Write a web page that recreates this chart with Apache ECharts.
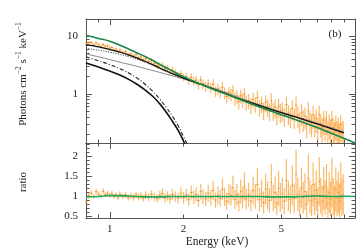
<!DOCTYPE html>
<html><head><meta charset="utf-8">
<script src="https://cdn.jsdelivr.net/npm/echarts@6/dist/echarts.min.js"></script>
<style>html,body{margin:0;padding:0;background:#fff}#c{width:357px;height:249px}</style>
</head><body><div id="c"></div>
<script>
// ---------- data ----------
const energies = [0.80,0.82,0.84,0.86,0.88,0.90,0.92,0.94,0.96,0.98,
1.00,1.02,1.04,1.06,1.08,1.10,1.13,1.16,1.19,1.22,
1.25,1.28,1.31,1.34,1.37,1.40,1.44,1.48,1.52,1.56,
1.60,1.64,1.68,1.72,1.76,1.80,1.85,1.90,1.95,2.00,
2.05,2.10,2.15,2.20,2.25,2.30,2.35,2.40,2.46,2.52,
2.58,2.64,2.70,2.76,2.82,2.88,2.94,3.00,3.06,3.12,
3.18,3.24,3.30,3.36,3.42,3.48,3.54,3.60,3.68,3.76,
3.84,3.92,4.00,4.08,4.16,4.24,4.32,4.40,4.48,4.56,
4.64,4.72,4.80,4.88,4.96,5.05,5.15,5.25,5.35,5.45,
5.55,5.65,5.75,5.85,5.95,6.05,6.15,6.25,6.35,6.45,
6.55,6.65,6.75,6.85,6.95,7.05,7.15,7.25,7.35,7.45,
7.55,7.65,7.75,7.85,7.95,8.05,8.15,8.25,8.35,8.45,
8.55,8.65,8.75,8.85,8.95];
const flux = [7.3,7.8,7.85,7.15,7.7,7.2,6.7,7.2,6.75,6.8,
6.25,6.4,5.8,6.0,5.45,5.75,5.3,5.4,4.85,4.95,
4.55,4.8,4.3,4.35,3.9,4.1,3.65,3.8,3.4,3.1,
3.15,3.15,2.75,2.8,2.4,2.6,2.35,2.15,2.25,1.95,
2.0,1.7,1.95,1.68,1.74,1.44,1.74,1.5,1.35,1.49,
1.29,1.47,1.12,1.23,1.08,1.30,1.05,0.90,1.06,0.98,
1.13,0.84,0.92,0.73,0.93,0.79,0.99,0.72,0.77,0.64,
0.80,0.68,0.86,0.59,0.68,0.52,0.71,0.60,0.51,0.76,
0.52,0.59,0.44,0.61,0.49,0.52,0.42,0.65,0.46,0.41,
0.56,0.40,0.64,0.43,0.34,0.47,0.37,0.41,0.29,0.51,
0.35,0.31,0.43,0.31,0.37,0.27,0.43,0.31,0.26,0.35,
0.27,0.35,0.23,0.30,0.25,0.35,0.26,0.22,0.29,0.23,
0.26,0.21,0.29,0.22,0.23];
const relErr = [0.07,0.06,0.06,0.06,0.06,0.06,0.06,0.06,0.06,0.06,
0.06,0.06,0.06,0.06,0.07,0.07,0.07,0.07,0.08,0.08,
0.08,0.08,0.09,0.09,0.09,0.10,0.10,0.10,0.11,0.11,
0.11,0.12,0.12,0.12,0.13,0.13,0.13,0.14,0.14,0.15,
0.15,0.16,0.16,0.17,0.17,0.18,0.18,0.19,0.19,0.20,
0.20,0.21,0.21,0.22,0.22,0.23,0.23,0.24,0.24,0.25,
0.25,0.26,0.26,0.27,0.27,0.28,0.28,0.29,0.29,0.30,
0.30,0.31,0.31,0.32,0.32,0.33,0.33,0.34,0.34,0.35,
0.35,0.36,0.36,0.36,0.37,0.37,0.37,0.38,0.38,0.38,
0.39,0.39,0.40,0.40,0.40,0.41,0.41,0.41,0.42,0.42,
0.42,0.43,0.43,0.43,0.44,0.44,0.44,0.44,0.45,0.45,
0.45,0.45,0.46,0.46,0.46,0.46,0.47,0.47,0.47,0.47,
0.48,0.48,0.48,0.48,0.48];
const ratio = [0.86,1.02,1.08,1.00,1.12,1.06,1.01,1.13,1.05,1.08,
1.02,1.07,1.00,1.04,0.97,1.05,1.00,1.04,0.97,1.01,
0.98,1.04,0.99,1.02,0.96,1.03,0.98,1.05,0.99,0.95,
1.03,1.07,0.96,1.01,0.94,1.05,1.00,0.96,1.08,0.97,
1.04,0.92,1.10,0.98,1.05,0.90,1.12,1.00,0.94,1.08,
0.97,1.15,0.91,1.03,0.95,1.18,0.99,0.88,1.07,1.02,
1.22,0.93,1.05,0.86,1.12,0.97,1.25,0.94,1.04,0.89,
1.15,1.00,1.30,0.92,1.08,0.85,1.18,1.02,0.90,1.35,
0.96,1.10,0.83,1.20,0.98,1.07,0.88,1.40,1.01,0.92,
1.28,0.95,1.55,1.05,0.86,1.22,0.97,1.12,0.80,1.45,
1.00,0.90,1.30,0.94,1.15,0.85,1.38,1.02,0.88,1.20,
0.96,1.25,0.82,1.10,0.93,1.35,1.00,0.87,1.18,0.95,
1.10,0.90,1.25,0.98,1.05];

const bbE      = [0.8,0.9,1.0,1.1,1.2,1.3,1.4,1.5,1.6,1.7,1.8,1.9,2.0,2.1];
const bbThick  = [3.45,2.92,2.5,2.12,1.77,1.44,1.15,0.90,0.67,0.48,0.335,0.232,0.15,0.095];
const bbDashDot= [4.4,3.75,3.22,2.75,2.28,1.85,1.44,1.1,0.81,0.58,0.41,0.28,0.18,0.115];

const mainE      = [0.8,0.9,1.0,1.1,1.2,1.3,1.4,1.5,1.6,1.7,1.8,2.0,2.2,2.4,2.7,3.0,3.5,4.0,5.0,6.0,7.0,8.0,9.0,10.0];
const totalModel = [10.3,9.2,8.2,7.0,5.95,5.1,4.4,3.8,3.25,2.85,2.5,1.98,1.65,1.42,1.17,0.98,0.76,0.61,0.435,0.33,0.26,0.207,0.17,0.14];
const blackLine  = [7.2,6.55,5.9,5.3,4.7,4.15,3.65,3.2,2.8,2.5,2.25,1.88,1.62,1.42,1.17,0.99,0.78,0.645,0.47,0.37,0.30,0.25,0.21];
const grayLine   = [4.95,4.4,3.95,3.55,3.25,2.98,2.74,2.54,2.36,2.2,2.06,1.82,1.62,1.45,1.22,1.04,0.81,0.665,0.485,0.38,0.31,0.257,0.217];
const dottedLine = [6.15,5.75,5.3,4.85,4.4,3.95,3.52,3.12,2.76,2.47,2.22,1.86,1.61,1.42];

const ratioModelE = [0.8,0.9,1.0,1.1,1.2,1.4,1.6,1.8,2.0,2.5,3.0,3.5,4.0,4.5,5.0,5.5,6.0,6.5,7.0,7.5,8.0,8.5,9.0,10.0];
const ratioModel  = [0.99,1.0,1.02,1.02,1.01,0.99,0.99,1.0,1.0,1.0,1.0,1.0,1.0,0.99,0.99,0.99,1.0,1.005,1.01,1.005,1.0,1.0,1.005,1.0];

const xMajor = [1,10];
const xMinor = [0.9,2,3,4,5,6,7,8,9];
const xLabels = [1,2,5];
const yTopMajor = [1,10];
const yTopMinor = [0.2,0.3,0.4,0.5,0.6,0.7,0.8,0.9,2,3,4,5,6,7,8,9,20];
const yTopLabels = [1,10];
const rMajor = [0.5,1,1.5,2];
const rMinor = [0.5,0.6,0.7,0.8,0.9,1.0,1.1,1.2,1.3,1.4,1.5,1.6,1.7,1.8,1.9,2.0,2.1,2.2,2.3];
const rLabels = [0.5,1,1.5,2];

// ---------- chart ----------
const FONT = 'Liberation Serif';
const AX = '#555';
const pairs = (xs, ys) => ys.map((v, i) => [xs[i], v]);
function edges(i){
  const e = energies;
  const lo = i > 0 ? (e[i-1]+e[i])/2 : e[0]-(e[1]-e[0])/2;
  const hi = i < e.length-1 ? (e[i]+e[i+1])/2 : e[i]+(e[i]-e[i-1])/2;
  return [lo, hi];
}
const topData = energies.map((E,i)=>{const b=edges(i); return [E, flux[i], flux[i]*relErr[i], b[0], b[1]];});
const ratData = energies.map((E,i)=>{const b=edges(i); return [E, ratio[i], ratio[i]*relErr[i], b[0], b[1]];});

function errRender(ymin, ymax){
  return function(params, api){
    const E = api.value(0), v = api.value(1), e = api.value(2);
    const lo = Math.max(v-e, ymin), hi = Math.min(v+e, ymax);
    const a = api.coord([E, lo]), b = api.coord([E, hi]);
    const xl = Math.max(api.value(3), 0.8), xh = Math.min(api.value(4), 10);
    const c = api.coord([xl, v]), d = api.coord([xh, v]);
    const children = [{type:'line', shape:{x1:a[0],y1:a[1],x2:b[0],y2:b[1]}, style:{stroke:'#f89e30', lineWidth:1.2, opacity:0.72}}];
    if (v >= ymin && v <= ymax) children.push({type:'line', shape:{x1:c[0],y1:c[1],x2:d[0],y2:d[1]}, style:{stroke:'#f08a14', lineWidth:1, opacity:0.9}});
    return {type:'group', children};
  };
}

const lbl = (vals, margin) => ({show:true, customValues:vals, fontFamily:FONT, fontSize:11, color:'#222', margin});
function xAx(grid, pos, ticks, len, labels, line){
  return {type:'log', logBase:10, gridIndex:grid, position:pos, min:0.8, max:10,
    axisLine:{show:line, onZero:false, lineStyle:{color:AX, width:1}},
    axisTick:{show:true, inside:true, length:len, customValues:ticks, lineStyle:{color:AX, width:1}},
    axisLabel: labels ? lbl(labels, 6) : {show:false},
    splitLine:{show:false}};
}
function yAx(grid, pos, type, min, max, ticks, len, labels, line){
  const o = {type, gridIndex:grid, position:pos, min, max,
    axisLine:{show:line, onZero:false, lineStyle:{color:AX, width:1}},
    axisTick:{show:true, inside:true, length:len, customValues:ticks, lineStyle:{color:AX, width:1}},
    axisLabel: labels ? lbl(labels, 8) : {show:false},
    splitLine:{show:false}};
  if (type === 'log') o.logBase = 10;
  return o;
}

const chart = echarts.init(document.getElementById('c'), null, {renderer:'canvas'});
chart.setOption({
  animation:false,
  backgroundColor:'#fff',
  grid:[
    {left:86, right:2, top:19, height:124},
    {left:86, right:2, top:143, height:75}
  ],
  xAxis:[
    xAx(0,'bottom',xMajor,6,null,true),
    xAx(0,'bottom',xMinor,3.5,null,false),
    xAx(0,'top',xMajor,6,null,true),
    xAx(0,'top',xMinor,3.5,null,false),
    xAx(1,'bottom',xMajor,6,xLabels,true),
    xAx(1,'bottom',xMinor,3.5,null,false),
    xAx(1,'top',xMajor,6,null,true),
    xAx(1,'top',xMinor,3.5,null,false)
  ],
  yAxis:[
    yAx(0,'left','log',0.14,20,yTopMajor,6,yTopLabels,true),
    yAx(0,'left','log',0.14,20,yTopMinor,3.5,null,false),
    yAx(0,'right','log',0.14,20,yTopMajor,6,null,true),
    yAx(0,'right','log',0.14,20,yTopMinor,3.5,null,false),
    yAx(1,'left','value',0.46,2.34,rMajor,6,rLabels,true),
    yAx(1,'left','value',0.46,2.34,rMinor,3.5,null,false),
    yAx(1,'right','value',0.46,2.34,rMajor,6,null,true),
    yAx(1,'right','value',0.46,2.34,rMinor,3.5,null,false)
  ],
  series:[
    {type:'custom', xAxisIndex:0, yAxisIndex:0, data:topData, encode:{x:0,y:1}, renderItem:errRender(0.14,20), z:1, silent:true},
    {type:'custom', xAxisIndex:4, yAxisIndex:4, data:ratData, encode:{x:0,y:1}, renderItem:errRender(0.46,2.34), z:1, silent:true},
    {type:'line', xAxisIndex:0, yAxisIndex:0, data:pairs(bbE,bbThick), smooth:true, showSymbol:false, clip:true, lineStyle:{color:'#111', width:1.6}, z:3},
    {type:'line', xAxisIndex:0, yAxisIndex:0, data:pairs(bbE,bbDashDot), smooth:true, showSymbol:false, clip:true, lineStyle:{color:'#222', width:1.1, type:[4,2,1,2]}, z:3},
    {type:'line', xAxisIndex:0, yAxisIndex:0, data:pairs(mainE,grayLine), smooth:true, showSymbol:false, clip:true, lineStyle:{color:'#777', width:0.9}, z:3},
    {type:'line', xAxisIndex:0, yAxisIndex:0, data:pairs(mainE,dottedLine), smooth:true, showSymbol:false, clip:true, lineStyle:{color:'#333', width:1, type:[1,1.5]}, z:3},
    {type:'line', xAxisIndex:0, yAxisIndex:0, data:pairs(mainE,blackLine), smooth:true, showSymbol:false, clip:true, lineStyle:{color:'#111', width:1.3}, z:4},
    {type:'line', xAxisIndex:0, yAxisIndex:0, data:pairs(mainE,totalModel), smooth:true, showSymbol:false, clip:true, lineStyle:{color:'#18894a', width:1.6}, z:5},
    {type:'line', xAxisIndex:4, yAxisIndex:4, data:pairs(ratioModelE,ratioModel), smooth:true, showSymbol:false, clip:true, lineStyle:{color:'#1fa85c', width:1.6}, z:5}
  ],
  graphic:[
    {type:'text', x:22, y:74, rotation:Math.PI/2, style:{
      text:'{a|Photons cm}{s|−2}{a| s}{s|−1}{a| keV}{s|−1}',
      rich:{a:{fontFamily:FONT, fontSize:11, fill:'#222', lineHeight:14, verticalAlign:'bottom'},
            s:{fontFamily:FONT, fontSize:7.5, fill:'#222', lineHeight:14, verticalAlign:'top'}},
      align:'center', verticalAlign:'middle'}},
    {type:'text', x:23, y:182, rotation:Math.PI/2, style:{text:'ratio', fontFamily:FONT, fontSize:11, fill:'#222', align:'center', verticalAlign:'middle'}},
    {type:'text', x:217, y:242, style:{text:'Energy (keV)', fontFamily:FONT, fontSize:11.5, fill:'#222', align:'center', verticalAlign:'middle'}},
    {type:'text', x:335, y:34, style:{text:'(b)', fontFamily:FONT, fontSize:11, fill:'#222', align:'center', verticalAlign:'middle'}}
  ]
});
</script>
</body></html>
